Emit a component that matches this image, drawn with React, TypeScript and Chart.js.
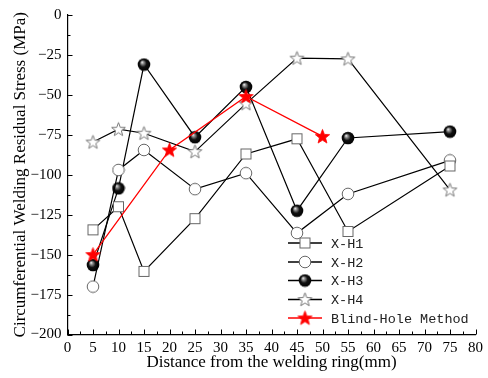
import { useEffect, useRef } from 'react';
import { Chart, registerables } from 'chart.js';
Chart.register(...registerables);

const positions = [5, 10, 15, 25, 35, 45, 55, 75];
const h1 = [-134.5, -120, -160.5, -127.5, -87, -77.5, -135.5, -94.5];
const h2 = [-170, -97, -84.5, -109, -99, -136.5, -112, -91];
const h3 = [-156.5, -108.5, -31, -76.5, -45, -122.5, -77, -73];
const h4 = [-79.5, -71.5, -74, -85.5, -55.5, -27, -27.5, -109.5];
const blindX = [5, 20, 35, 50];
const blind = [-150, -84.5, -51, -76];
const seriesLabels = ['X-H1', 'X-H2', 'X-H3', 'X-H4', 'Blind-Hole Method'];
const xTitle = 'Distance from the welding ring(mm)';
const yTitle = 'Circumferential Welding Residual Stress (MPa)';

function mk(size: number, draw: (c: CanvasRenderingContext2D) => void) {
  const cv = document.createElement('canvas');
  cv.width = size; cv.height = size;
  const c = cv.getContext('2d')!;
  draw(c);
  return cv;
}
function starPath(c: CanvasRenderingContext2D, cx: number, cy: number, ro: number, ri: number) {
  c.beginPath();
  for (let i = 0; i < 10; i++) {
    const r = i % 2 === 0 ? ro : ri;
    const a = -Math.PI / 2 + (i * Math.PI) / 5;
    const x = cx + r * Math.cos(a), y = cy + r * Math.sin(a);
    if (i === 0) c.moveTo(x, y); else c.lineTo(x, y);
  }
  c.closePath();
}

export default function App() {
  const ref = useRef<HTMLCanvasElement>(null);
  useEffect(() => {
    const square = mk(13, (c) => { c.fillStyle = '#fff'; c.fillRect(1.5, 1.5, 10, 10); c.strokeStyle = '#666'; c.lineWidth = 1; c.strokeRect(1.5, 1.5, 10, 10); });
    const circle = mk(14, (c) => { c.beginPath(); c.arc(7, 7, 5.8, 0, Math.PI * 2); c.fillStyle = '#fff'; c.fill(); c.strokeStyle = '#666'; c.lineWidth = 1; c.stroke(); });
    const sphere = mk(14, (c) => {
      const g = c.createRadialGradient(5, 4.5, 0, 7, 7, 6.5);
      g.addColorStop(0, '#ffffff'); g.addColorStop(0.2, '#999'); g.addColorStop(0.55, '#111'); g.addColorStop(1, '#000');
      c.beginPath(); c.arc(7, 7, 6.3, 0, Math.PI * 2); c.fillStyle = g; c.fill();
    });
    const star = mk(17, (c) => { starPath(c, 8.5, 9, 7.2, 3); c.fillStyle = '#fff'; c.fill(); c.strokeStyle = '#777'; c.lineWidth = 1; c.stroke(); });
    const redStar = mk(17, (c) => { starPath(c, 8.5, 9, 7.5, 3.2); c.fillStyle = '#f00'; c.fill(); c.strokeStyle = '#f00'; c.lineWidth = 0.8; c.stroke(); });
    const styles = [square, circle, sphere, star, redStar];
    const colors = ['#000', '#000', '#000', '#000', '#f00'];
    const ys = [h1, h2, h3, h4, blind];
    const xs = [positions, positions, positions, positions, blindX];

    const datasets = ys.map((arr, i) => ({
      label: seriesLabels[i],
      data: arr.map((v, j) => ({ x: xs[i][j], y: v })),
      borderColor: colors[i],
      borderWidth: i === 4 ? 1.3 : 1.2,
      pointStyle: styles[i] as any,
      pointRadius: 6,
      pointHoverRadius: 6,
      tension: 0,
      fill: false,
      order: i === 4 ? -1 : i,
    }));

    const serif = '"Liberation Serif", "Times New Roman", serif';

    const ticksPlugin = {
      id: 'inticks',
      afterDraw(chart: any) {
        const ctx = chart.ctx;
        const xs_ = chart.scales.x, ys_ = chart.scales.y;
        const ca = chart.chartArea;
        ctx.save();
        ctx.strokeStyle = '#000';
        ctx.lineWidth = 1;
        for (let v = 0; v <= 80; v += 2.5) {
          const px = Math.round(xs_.getPixelForValue(v)) + 0.5;
          const len = v % 5 === 0 ? 5 : 3;
          ctx.beginPath(); ctx.moveTo(px, ca.bottom); ctx.lineTo(px, ca.bottom - len); ctx.stroke();
        }
        for (let v = -200; v <= 0; v += 12.5) {
          const py = Math.round(ys_.getPixelForValue(v)) + 0.5;
          const len = v % 25 === 0 ? 5 : 3;
          ctx.beginPath(); ctx.moveTo(ca.left, py); ctx.lineTo(ca.left + len, py); ctx.stroke();
        }
        // legend
        const lx0 = 288, lx1 = 322, mx = 305, tx = 331;
        const rowY = [243, 262, 280.5, 299.5, 318];
        ctx.font = '13.5px "Liberation Mono", "DejaVu Sans Mono", monospace';
        ctx.textBaseline = 'middle';
        ctx.textAlign = 'left';
        chart.data.datasets.forEach((ds: any, i: number) => {
          const y = rowY[i];
          ctx.strokeStyle = ds.borderColor;
          ctx.lineWidth = ds.borderWidth + 0.3;
          ctx.beginPath(); ctx.moveTo(lx0, y); ctx.lineTo(lx1, y); ctx.stroke();
          const im = ds.pointStyle;
          ctx.drawImage(im, mx - im.width / 2, y - im.height / 2);
          ctx.fillStyle = '#222';
          ctx.fillText(ds.label, tx, y + 1);
        });
        ctx.restore();
      },
    };

    const chart = new Chart(ref.current!, {
      type: 'line',
      data: { datasets } as any,
      options: {
        animation: false,
        responsive: false,
        layout: { padding: { left: 0, right: 12.5, top: 14, bottom: 0 } },
        plugins: { legend: { display: false }, tooltip: { enabled: false } },
        scales: {
          x: {
            type: 'linear', min: 0, max: 80,
            ticks: { stepSize: 5, color: '#000', font: { family: serif, size: 15 }, padding: 5, maxRotation: 0 },
            grid: { display: false, drawTicks: false },
            border: { display: true, color: '#000', width: 1.2 },
            title: { display: true, text: xTitle, color: '#000', font: { family: serif, size: 17 }, padding: { top: 0, bottom: 5 } },
            afterFit: (s: any) => { s.height = 43.5; },
          },
          y: {
            type: 'linear', min: -200, max: 0,
            ticks: { stepSize: 25, color: '#000', font: { family: serif, size: 15 }, padding: 6, callback: (v: any) => (Number(v) < 0 ? '\u2212' + Math.abs(Number(v)) : String(v)) },
            grid: { display: false, drawTicks: false },
            border: { display: true, color: '#000', width: 1.2 },
            title: { display: true, text: yTitle, color: '#000', font: { family: serif, size: 17 }, padding: { top: 10, bottom: 0 } },
            afterFit: (s: any) => { s.width = 67.5; },
          },
        },
      } as any,
      plugins: [ticksPlugin],
    });
    return () => chart.destroy();
  }, []);
  return (
    <div style={{ position: 'absolute', left: 0, top: 0, width: 488, height: 378 }}>
      <canvas ref={ref} width={488} height={378} style={{ display: 'block' }} />
    </div>
  );
}
